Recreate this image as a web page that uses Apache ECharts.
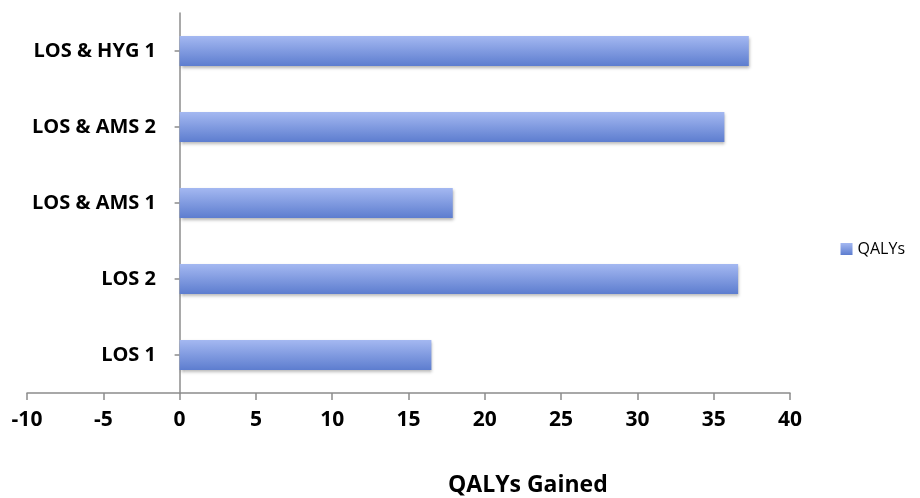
<!DOCTYPE html>
<html>
<head>
<meta charset="utf-8">
<script src="https://cdn.jsdelivr.net/npm/echarts@6/dist/echarts.min.js"></script>
<style>
  html, body { margin: 0; padding: 0; background: #fff; }
  #chart { width: 920px; height: 498px; }
</style>
</head>
<body>
<div id="chart"></div>
<script>
// data
const categories = ['LOS 1', 'LOS 2', 'LOS & AMS 1', 'LOS & AMS 2', 'LOS & HYG 1']
const qalys = [16.5, 36.6, 17.9, 35.7, 37.3]
const seriesName = 'QALYs'
const axisTitle = 'QALYs Gained'

const font = '"Open Sans", "DejaVu Sans", sans-serif'
const axisGray = '#8c8c8c'

const chart = echarts.init(document.getElementById('chart'))

chart.setOption({
  animation: false,
  title: {
    text: axisTitle,
    left: 443,
    top: 469,
    textStyle: { fontFamily: font, fontSize: 23, fontWeight: 'bold', color: '#000' }
  },
  legend: {
    data: [seriesName],
    right: 10,
    top: 236,
    icon: 'rect',
    itemWidth: 12,
    itemHeight: 12,
    itemGap: 6,
    textStyle: { fontFamily: font, fontSize: 16, color: '#000' }
  },
  grid: { left: 27, right: 130, top: 13, bottom: 105, containLabel: false, outerBoundsMode: 'none' },
  xAxis: {
    type: 'value',
    min: -10,
    max: 40,
    interval: 5,
    splitLine: { show: false },
    axisLine: { show: true, lineStyle: { color: axisGray, width: 1.5 } },
    axisTick: { show: true, length: 7, lineStyle: { color: axisGray, width: 1.5 } },
    axisLabel: {
      margin: 17,
      fontFamily: font,
      fontSize: 21,
      fontWeight: 'bold',
      color: '#000'
    }
  },
  yAxis: {
    type: 'category',
    data: categories,
    axisLine: { show: true, onZero: true, lineStyle: { color: axisGray, width: 1.5 } },
    axisTick: { show: true, alignWithLabel: true, length: 5, lineStyle: { color: axisGray, width: 1.5 } },
    axisLabel: {
      margin: -129,
      fontFamily: font,
      fontSize: 20,
      fontWeight: 'bold',
      color: '#000'
    }
  },
  series: [{
    name: seriesName,
    type: 'bar',
    data: qalys,
    barWidth: 30,
    itemStyle: {
      color: new echarts.graphic.LinearGradient(0, 0, 0, 1, [
        { offset: 0, color: '#a4b8f1' },
        { offset: 1, color: '#5d7dcf' }
      ]),
      shadowColor: 'rgba(0,0,0,0.3)',
      shadowBlur: 3,
      shadowOffsetY: 2,
      shadowOffsetX: 1
    }
  }]
})
</script>
</body>
</html>
